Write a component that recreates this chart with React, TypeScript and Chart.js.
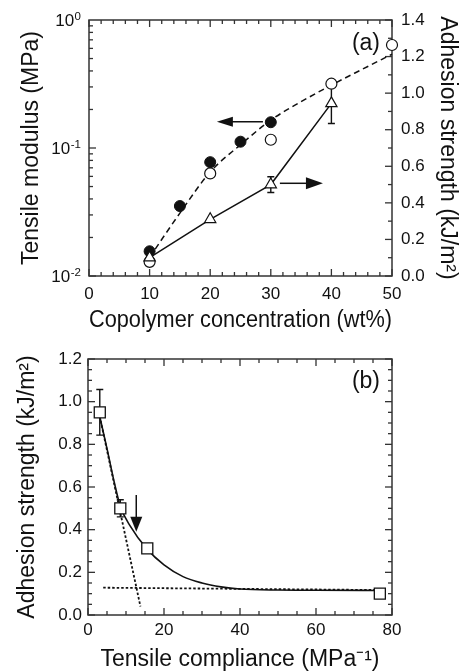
import React, { useEffect, useRef } from 'react';
import { Chart, registerables } from 'chart.js';

Chart.register(...registerables);

const FONT = '"Liberation Sans", Arial, Helvetica, sans-serif';
const INK = '#111111';

// ---------- Panel (a) data ----------
const concFilled = [10, 15, 20, 25, 30];
const modulusFilled = [0.0156, 0.0352, 0.0775, 0.112, 0.159];
const concOpen = [10, 20, 30, 40, 50];
const modulusOpen = [0.0129, 0.0633, 0.116, 0.318, 0.638];
const concFit = [10, 15, 20, 25, 30, 35, 40, 45, 50];
const modulusFit = [0.014, 0.031, 0.065, 0.106, 0.165, 0.23, 0.31, 0.41, 0.54];
const concAdhesion = [10, 20, 30, 40];
const adhesionA = [0.1, 0.31, 0.5, 0.944];
const adhesionAErr = [0, 0, 0.043, 0.11];
const xTicksA = [0, 10, 20, 30, 40, 50];
const logTicksA = [0.01, 0.1, 1];
const logExponentsA = ['-2', '-1', '0'];
const rightTicksA = [0, 0.2, 0.4, 0.6, 0.8, 1.0, 1.2, 1.4];
// arrows: [x1, y1, x2, y2]
const arrowModulus = [28.7, 0.16, 21.1, 0.16];
const arrowAdhesion = [31.5, 0.507, 38.6, 0.507];

// ---------- Panel (b) data ----------
const compliance = [3.1, 8.5, 15.6, 76.8];
const adhesionB = [0.95, 0.5, 0.312, 0.1];
const adhesionBErr = [0.107, 0.04, 0, 0];
const complianceFit = [3.1, 5, 7, 8.5, 11, 15.5, 20, 25, 30, 35, 40, 50, 60, 77];
const adhesionFit = [0.93, 0.78, 0.615, 0.51, 0.42, 0.31, 0.235, 0.18, 0.15, 0.132, 0.122, 0.117, 0.116, 0.115];
const steepLineX = [3.1, 13.8];
const steepLineY = [0.93, 0.04];
const plateauLineX = [4, 77];
const plateauLineY = [0.128, 0.117];
const xTicksB = [0, 20, 40, 60, 80];
const yTicksB = [0, 0.2, 0.4, 0.6, 0.8, 1.0, 1.2];
const arrowB = [12.7, 0.5625, 12.7, 0.39];

const pts = (xs: number[], ys: number[]) => xs.map((x, i) => ({ x, y: ys[i] }));

function drawArrow(ctx: CanvasRenderingContext2D, x1: number, y1: number, x2: number, y2: number, headLen: number, headHalf: number) {
  const ang = Math.atan2(y2 - y1, x2 - x1);
  const bx = x2 - Math.cos(ang) * headLen;
  const by = y2 - Math.sin(ang) * headLen;
  ctx.beginPath();
  ctx.moveTo(x1, y1);
  ctx.lineTo(bx + Math.cos(ang) * 2, by + Math.sin(ang) * 2);
  ctx.stroke();
  ctx.beginPath();
  ctx.moveTo(x2, y2);
  ctx.lineTo(bx + Math.sin(ang) * headHalf, by - Math.cos(ang) * headHalf);
  ctx.lineTo(bx - Math.sin(ang) * headHalf, by + Math.cos(ang) * headHalf);
  ctx.closePath();
  ctx.fill();
}

function hTick(ctx: CanvasRenderingContext2D, px: number, area: any, len: number) {
  ctx.beginPath();
  ctx.moveTo(px, area.bottom);
  ctx.lineTo(px, area.bottom - len);
  ctx.moveTo(px, area.top);
  ctx.lineTo(px, area.top + len);
  ctx.stroke();
}
function vTick(ctx: CanvasRenderingContext2D, py: number, x0: number, dir: number, len: number) {
  ctx.beginPath();
  ctx.moveTo(x0, py);
  ctx.lineTo(x0 + dir * len, py);
  ctx.stroke();
}

const errorBarPlugin = {
  id: 'errbars',
  beforeDatasetsDraw(chart: any) {
    const ctx = chart.ctx;
    ctx.save();
    ctx.strokeStyle = INK;
    ctx.lineWidth = 1.4;
    chart.data.datasets.forEach((ds: any, i: number) => {
      if (!ds.errorBars) return;
      const meta = chart.getDatasetMeta(i);
      const ys = chart.scales[meta.yAxisID];
      meta.data.forEach((el: any, j: number) => {
        const e = ds.errorBars[j];
        if (!e) return;
        const v = ds.data[j].y;
        const yT = ys.getPixelForValue(v + e);
        const yB = ys.getPixelForValue(v - e);
        ctx.beginPath();
        ctx.moveTo(el.x, yT);
        ctx.lineTo(el.x, yB);
        ctx.moveTo(el.x - 3.5, yT);
        ctx.lineTo(el.x + 3.5, yT);
        ctx.moveTo(el.x - 3.5, yB);
        ctx.lineTo(el.x + 3.5, yB);
        ctx.stroke();
      });
    });
    ctx.restore();
  },
};

const frameA = {
  id: 'frameA',
  beforeDatasetsDraw(chart: any) {
    const { ctx, chartArea: a, scales } = chart;
    ctx.save();
    ctx.strokeStyle = '#333';
    ctx.lineWidth = 1.5;
    ctx.strokeRect(a.left, a.top, a.right - a.left, a.bottom - a.top);
    ctx.lineWidth = 1.3;
    for (let i = 0; i <= 25; i++) {
      const v = i * 2;
      hTick(ctx, scales.x.getPixelForValue(v), a, v % 10 === 0 ? 7 : 4);
    }
    for (const d of [0.01, 0.1]) {
      for (let m = 1; m <= 9; m++) {
        vTick(ctx, scales.yL.getPixelForValue(m * d), a.left, 1, m === 1 ? 7 : 4);
      }
    }
    for (let i = 0; i <= 14; i++) {
      vTick(ctx, scales.yR.getPixelForValue(i * 0.1), a.right, -1, i % 2 === 0 ? 7 : 4);
    }
    // log tick labels with superscript exponents
    ctx.fillStyle = INK;
    ctx.textBaseline = 'alphabetic';
    logTicksA.forEach((v, k) => {
      const py = scales.yL.getPixelForValue(v);
      ctx.font = `11.5px ${FONT}`;
      const ew = ctx.measureText(logExponentsA[k]).width;
      const xr = a.left - 8;
      ctx.textAlign = 'left';
      ctx.fillText(logExponentsA[k], xr - ew, py - 0.5);
      ctx.font = `17px ${FONT}`;
      ctx.textAlign = 'right';
      ctx.fillText('10', xr - ew - 0.5, py + 6);
    });
    ctx.restore();
  },
  afterDatasetsDraw(chart: any) {
    const { ctx, chartArea: a, scales } = chart;
    ctx.save();
    ctx.strokeStyle = INK;
    ctx.fillStyle = INK;
    ctx.lineWidth = 1.5;
    const [m1, m2, m3, m4] = arrowModulus;
    drawArrow(ctx, scales.x.getPixelForValue(m1), scales.yL.getPixelForValue(m2), scales.x.getPixelForValue(m3), scales.yL.getPixelForValue(m4), 16, 5);
    const [a1, a2, a3, a4] = arrowAdhesion;
    drawArrow(ctx, scales.x.getPixelForValue(a1), scales.yR.getPixelForValue(a2), scales.x.getPixelForValue(a3), scales.yR.getPixelForValue(a4), 17, 6);
    ctx.font = `23px ${FONT}`;
    ctx.textAlign = 'right';
    ctx.textBaseline = 'middle';
    ctx.fillText('(a)', a.right - 12, a.top + 24);
    ctx.restore();
  },
};

const frameB = {
  id: 'frameB',
  beforeDatasetsDraw(chart: any) {
    const { ctx, chartArea: a, scales } = chart;
    ctx.save();
    ctx.strokeStyle = '#333';
    ctx.lineWidth = 1.5;
    ctx.strokeRect(a.left, a.top, a.right - a.left, a.bottom - a.top);
    ctx.lineWidth = 1.3;
    for (let i = 0; i <= 16; i++) {
      hTick(ctx, scales.x.getPixelForValue(i * 5), a, i % 4 === 0 ? 7 : 4);
    }
    for (let i = 0; i <= 24; i++) {
      const py = scales.y.getPixelForValue(i * 0.05);
      const len = i % 4 === 0 ? 7 : 4;
      vTick(ctx, py, a.left, 1, len);
      vTick(ctx, py, a.right, -1, len);
    }
    ctx.restore();
  },
  afterDatasetsDraw(chart: any) {
    const { ctx, chartArea: a, scales } = chart;
    ctx.save();
    ctx.strokeStyle = INK;
    ctx.fillStyle = INK;
    ctx.lineWidth = 1.5;
    const [b1, b2, b3, b4] = arrowB;
    drawArrow(ctx, scales.x.getPixelForValue(b1), scales.y.getPixelForValue(b2), scales.x.getPixelForValue(b3), scales.y.getPixelForValue(b4), 15, 6);
    ctx.font = `23px ${FONT}`;
    ctx.textAlign = 'right';
    ctx.textBaseline = 'middle';
    ctx.fillText('(b)', a.right - 12, a.top + 23);
    ctx.restore();
  },
};

const tickFont = { size: 17, family: FONT };
const titleFont = { size: 23, family: FONT };

function configA(): any {
  return {
    type: 'line',
    data: {
      datasets: [
        {
          label: 'adhesion', data: pts(concAdhesion, adhesionA), errorBars: adhesionAErr, yAxisID: 'yR',
          showLine: true, borderColor: INK, borderWidth: 1.5, pointStyle: 'triangle', pointRadius: 6.5,
          pointBackgroundColor: '#fff', pointBorderColor: INK, pointBorderWidth: 1.2, order: 1, clip: false,
        },
        {
          label: 'filled', data: pts(concFilled, modulusFilled), yAxisID: 'yL', showLine: false,
          pointStyle: 'circle', pointRadius: 5.5, pointBackgroundColor: INK, pointBorderColor: INK, pointBorderWidth: 1,
          order: 2, clip: false,
        },
        {
          label: 'open', data: pts(concOpen, modulusOpen), yAxisID: 'yL', showLine: false,
          pointStyle: 'circle', pointRadius: 5.5, pointBackgroundColor: '#fff', pointBorderColor: INK, pointBorderWidth: 1.2,
          order: 3, clip: false,
        },
        {
          label: 'fit', data: pts(concFit, modulusFit), yAxisID: 'yL', borderColor: INK, borderWidth: 1.5,
          borderDash: [6, 4], pointRadius: 0, cubicInterpolationMode: 'monotone', order: 5, clip: false,
        },
      ],
    },
    options: {
      responsive: false,
      animation: false,
      events: [],
      layout: { padding: { top: 20, left: 0, right: 0, bottom: 0 } },
      plugins: { legend: { display: false }, tooltip: { enabled: false } },
      scales: {
        x: {
          type: 'linear', position: 'bottom', min: 0, max: 50,
          afterBuildTicks: (s: any) => { s.ticks = xTicksA.map((v) => ({ value: v })); },
          ticks: { font: tickFont, color: INK, padding: 8, maxRotation: 0, autoSkip: false },
          grid: { display: false, drawTicks: false }, border: { display: false },
          title: { display: true, text: 'Copolymer concentration (wt%)', font: titleFont, color: INK, padding: { top: 0, bottom: 1.5 } },
          afterFit: (s: any) => { s.height = 60; },
        },
        yL: {
          type: 'logarithmic', position: 'left', min: 0.01, max: 1,
          ticks: { display: false },
          grid: { display: false, drawTicks: false }, border: { display: false },
          title: { display: true, text: 'Tensile modulus (MPa)', font: titleFont, color: INK, padding: { top: 18, bottom: 0 } },
          afterFit: (s: any) => { s.width = 89; },
        },
        yR: {
          type: 'linear', position: 'right', min: 0, max: 1.4,
          afterBuildTicks: (s: any) => { s.ticks = rightTicksA.map((v) => ({ value: v })); },
          ticks: { font: tickFont, color: INK, padding: 9, callback: (v: any) => Number(v).toFixed(1) },
          grid: { display: false, drawTicks: false }, border: { display: false },
          title: { display: true, text: 'Adhesion strength (kJ/m²)', font: titleFont, color: INK, padding: { top: 3, bottom: 0 } },
          afterFit: (s: any) => { s.width = 72; },
        },
      },
    },
    plugins: [frameA, errorBarPlugin],
  };
}

function configB(): any {
  return {
    type: 'line',
    data: {
      datasets: [
        {
          label: 'squares', data: pts(compliance, adhesionB), errorBars: adhesionBErr, showLine: false,
          pointStyle: 'rect', pointRadius: 7.8, pointBackgroundColor: '#fff', pointBorderColor: INK, pointBorderWidth: 1.3,
          order: 1, clip: false,
        },
        {
          label: 'fit', data: pts(complianceFit, adhesionFit), borderColor: INK, borderWidth: 1.6, pointRadius: 0,
          cubicInterpolationMode: 'monotone', order: 2,
        },
        {
          label: 'steep', data: pts(steepLineX, steepLineY), borderColor: INK, borderWidth: 1.8, borderDash: [2.5, 2],
          pointRadius: 0, order: 3,
        },
        {
          label: 'plateau', data: pts(plateauLineX, plateauLineY), borderColor: INK, borderWidth: 1.8, borderDash: [2.5, 2],
          pointRadius: 0, order: 4,
        },
      ],
    },
    options: {
      responsive: false,
      animation: false,
      events: [],
      layout: { padding: { top: 23, left: 0, right: 72, bottom: 0 } },
      plugins: { legend: { display: false }, tooltip: { enabled: false } },
      scales: {
        x: {
          type: 'linear', position: 'bottom', min: 0, max: 80,
          afterBuildTicks: (s: any) => { s.ticks = xTicksB.map((v) => ({ value: v })); },
          ticks: { font: tickFont, color: INK, padding: 5.5, maxRotation: 0, autoSkip: false },
          grid: { display: false, drawTicks: false }, border: { display: false },
          title: { display: true, text: 'Tensile compliance (MPa⁻¹)', font: titleFont, color: INK, padding: { top: 0, bottom: -1.5 } },
          afterFit: (s: any) => { s.height = 57; },
        },
        y: {
          type: 'linear', position: 'left', min: 0, max: 1.2,
          afterBuildTicks: (s: any) => { s.ticks = yTicksB.map((v) => ({ value: v })); },
          ticks: { font: tickFont, color: INK, padding: 6, callback: (v: any) => Number(v).toFixed(1) },
          grid: { display: false, drawTicks: false }, border: { display: false },
          title: { display: true, text: 'Adhesion strength (kJ/m²)', font: titleFont, color: INK, padding: { top: 13.5, bottom: 0 } },
          afterFit: (s: any) => { s.width = 88; },
        },
      },
    },
    plugins: [frameB, errorBarPlugin],
  };
}

export default function App() {
  const refA = useRef<HTMLCanvasElement>(null);
  const refB = useRef<HTMLCanvasElement>(null);
  useEffect(() => {
    const ca = new Chart(refA.current as HTMLCanvasElement, configA());
    const cb = new Chart(refB.current as HTMLCanvasElement, configB());
    return () => {
      ca.destroy();
      cb.destroy();
    };
  }, []);
  return (
    <div style={{ position: 'absolute', left: 0, top: 0, width: 464, height: 672, overflow: 'hidden', background: '#fff' }}>
      <canvas ref={refA} width={464} height={336} style={{ position: 'absolute', left: 0, top: 0, width: 464, height: 336 }} />
      <canvas ref={refB} width={464} height={336} style={{ position: 'absolute', left: 0, top: 336, width: 464, height: 336 }} />
    </div>
  );
}
